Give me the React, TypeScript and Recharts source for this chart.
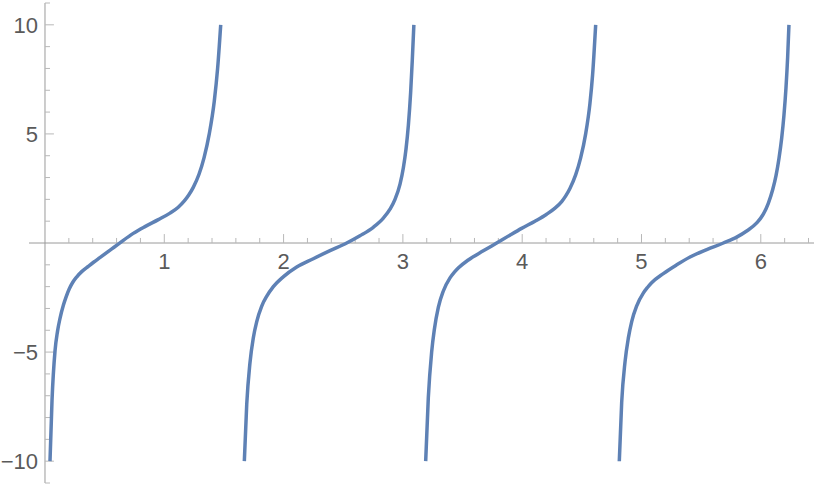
import { LineChart, Line, XAxis, YAxis, ReferenceLine, ReferenceDot } from "recharts";

// values, one list per branch between asymptotes
const branch1 = [
  { x: 0.042, y: -10 }, { x: 0.059, y: -7.21 }, { x: 0.084, y: -4.95 }, { x: 0.105, y: -4.05 },
  { x: 0.126, y: -3.45 }, { x: 0.154, y: -2.85 }, { x: 0.175, y: -2.5 }, { x: 0.204, y: -2.1 },
  { x: 0.233, y: -1.8 }, { x: 0.265, y: -1.56 }, { x: 0.31, y: -1.3 }, { x: 0.363, y: -1.07 },
  { x: 0.41, y: -0.87 }, { x: 0.46, y: -0.67 }, { x: 0.56, y: -0.27 }, { x: 0.62, y: -0.03 },
  { x: 0.74, y: 0.44 }, { x: 0.838, y: 0.75 }, { x: 0.95, y: 1.07 }, { x: 1.048, y: 1.37 },
  { x: 1.117, y: 1.64 }, { x: 1.168, y: 1.93 }, { x: 1.205, y: 2.2 }, { x: 1.243, y: 2.55 },
  { x: 1.291, y: 3.15 }, { x: 1.333, y: 3.9 }, { x: 1.377, y: 5.0 }, { x: 1.419, y: 6.5 },
  { x: 1.447, y: 8.0 }, { x: 1.473, y: 10 },
];
const branch2 = [
  { x: 1.671, y: -10 }, { x: 1.691, y: -7.4 }, { x: 1.718, y: -5.5 }, { x: 1.746, y: -4.35 },
  { x: 1.775, y: -3.6 }, { x: 1.816, y: -2.9 }, { x: 1.858, y: -2.45 }, { x: 1.914, y: -2.0 },
  { x: 1.997, y: -1.55 }, { x: 2.11, y: -1.1 }, { x: 2.249, y: -0.72 }, { x: 2.389, y: -0.35 },
  { x: 2.529, y: 0 }, { x: 2.64, y: 0.33 }, { x: 2.752, y: 0.72 }, { x: 2.836, y: 1.14 },
  { x: 2.892, y: 1.55 }, { x: 2.934, y: 2.0 }, { x: 2.976, y: 2.7 }, { x: 3.004, y: 3.45 },
  { x: 3.026, y: 4.3 }, { x: 3.046, y: 5.4 }, { x: 3.065, y: 6.9 }, { x: 3.079, y: 8.4 },
  { x: 3.092, y: 10 },
];
const branch3 = [
  { x: 3.191, y: -10 }, { x: 3.213, y: -7.1 }, { x: 3.241, y: -5.0 }, { x: 3.264, y: -3.95 },
  { x: 3.297, y: -2.95 }, { x: 3.339, y: -2.2 }, { x: 3.395, y: -1.6 }, { x: 3.43, y: -1.35 },
  { x: 3.464, y: -1.15 }, { x: 3.548, y: -0.78 }, { x: 3.674, y: -0.36 }, { x: 3.786, y: 0 },
  { x: 3.897, y: 0.36 }, { x: 3.995, y: 0.67 }, { x: 4.107, y: 1.0 }, { x: 4.205, y: 1.32 },
  { x: 4.275, y: 1.6 }, { x: 4.331, y: 1.9 }, { x: 4.365, y: 2.16 }, { x: 4.4, y: 2.5 },
  { x: 4.448, y: 3.12 }, { x: 4.49, y: 3.9 }, { x: 4.532, y: 5.0 }, { x: 4.568, y: 6.4 },
  { x: 4.59, y: 7.7 }, { x: 4.616, y: 10 },
];
const branch4 = [
  { x: 4.814, y: -10 }, { x: 4.834, y: -7.3 }, { x: 4.862, y: -5.45 }, { x: 4.89, y: -4.35 },
  { x: 4.918, y: -3.6 }, { x: 4.96, y: -2.88 }, { x: 5.015, y: -2.3 }, { x: 5.05, y: -2.04 },
  { x: 5.085, y: -1.82 }, { x: 5.183, y: -1.4 }, { x: 5.295, y: -1.0 }, { x: 5.407, y: -0.64 },
  { x: 5.547, y: -0.3 }, { x: 5.686, y: 0 }, { x: 5.798, y: 0.27 }, { x: 5.882, y: 0.55 },
  { x: 5.966, y: 0.92 }, { x: 6.021, y: 1.32 }, { x: 6.063, y: 1.82 }, { x: 6.1, y: 2.45 },
  { x: 6.128, y: 3.1 }, { x: 6.153, y: 3.9 }, { x: 6.175, y: 4.8 }, { x: 6.194, y: 5.85 },
  { x: 6.211, y: 7.1 }, { x: 6.225, y: 8.5 }, { x: 6.236, y: 10 },
];
const branches = [branch1, branch2, branch3, branch4];

const xMajor = [1, 2, 3, 4, 5, 6];
const xMinor = Array.from({ length: 32 }, (_, i) => +((i + 1) * 0.2).toFixed(1)).filter((v) => v % 1 !== 0);
const yMajor = [10, 5, -5, -10];
const yMinor = Array.from({ length: 23 }, (_, i) => i - 11).filter((v) => v % 5 !== 0);
const yLabels = ["10", "5", "\u22125", "\u221210"];

const blue = "#5e81b5";
const axisColor = "#9a9a9a";
const tickColor = "#b8b8b8";
const labelColor = "#5a5a5a";
const font = "'Liberation Sans', Arial, sans-serif";

export default function App() {
  return (
    <div style={{ position: "absolute", left: 0, top: 0 }}>
      <LineChart width={814} height={486} margin={{ top: 3, right: 0, bottom: 3, left: 29 }}>
        <XAxis type="number" dataKey="x" domain={[-0.134, 6.446]} hide allowDataOverflow />
        <YAxis type="number" domain={[-11, 11]} hide allowDataOverflow />
        <ReferenceLine y={0} stroke={axisColor} strokeWidth={1} />
        <ReferenceLine x={0} stroke={axisColor} strokeWidth={1} />
        {xMajor.map((v) => (
          <ReferenceLine key={"xM" + v} segment={[{ x: v, y: 0 }, { x: v, y: 0.41 }]} stroke={tickColor} />
        ))}
        {xMinor.map((v) => (
          <ReferenceLine key={"xm" + v} segment={[{ x: v, y: 0 }, { x: v, y: 0.23 }]} stroke={tickColor} />
        ))}
        {yMajor.map((v) => (
          <ReferenceLine key={"yM" + v} segment={[{ x: 0, y: v }, { x: 0.075, y: v }]} stroke={tickColor} />
        ))}
        {yMinor.map((v) => (
          <ReferenceLine key={"ym" + v} segment={[{ x: 0, y: v }, { x: 0.042, y: v }]} stroke={tickColor} />
        ))}
        {xMajor.map((v) => (
          <ReferenceDot
            key={"xl" + v}
            x={v}
            y={0}
            r={0}
            fill="none"
            stroke="none"
            label={{ value: String(v), position: "bottom", offset: 10, fill: labelColor, fontSize: 22, fontFamily: font }}
          />
        ))}
        {yMajor.map((v, i) => (
          <ReferenceDot
            key={"yl" + v}
            x={0}
            y={v}
            r={0}
            fill="none"
            stroke="none"
            label={{ value: yLabels[i], position: "left", offset: 7, fill: labelColor, fontSize: 22, fontFamily: font }}
          />
        ))}
        {branches.map((b, i) => (
          <Line
            key={i}
            data={b}
            dataKey="y"
            type="monotone"
            stroke={blue}
            strokeWidth={3.5}
            dot={false}
            isAnimationActive={false}
          />
        ))}
      </LineChart>
    </div>
  );
}
